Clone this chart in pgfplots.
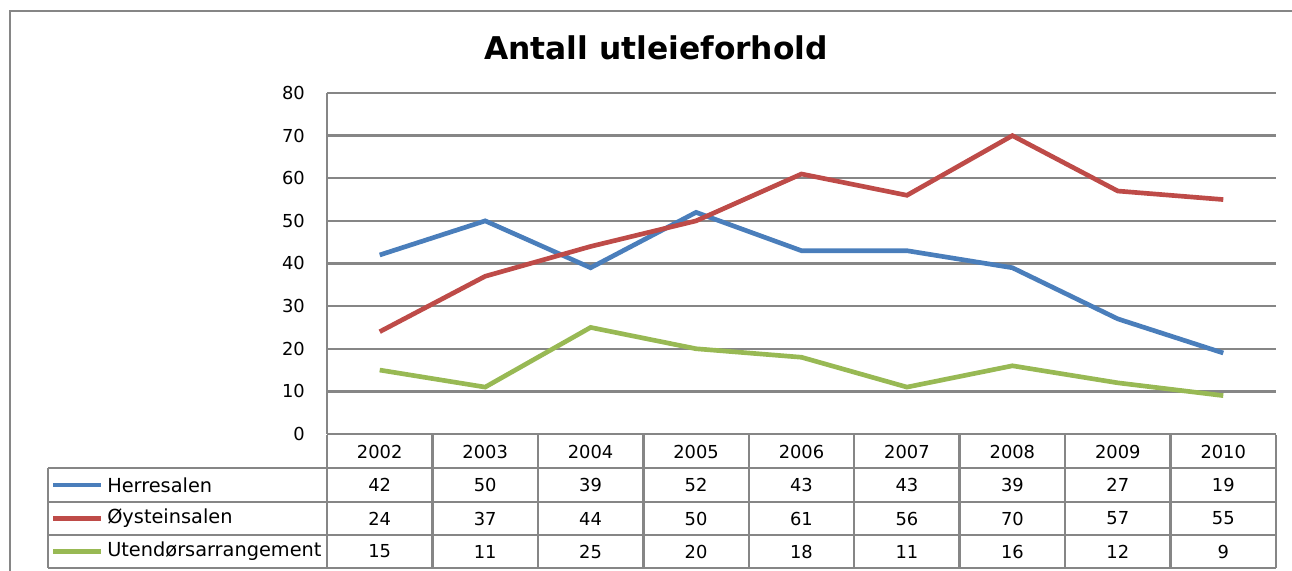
\documentclass[border=0pt]{standalone}
\usepackage{fontspec}
\setmainfont{DejaVu Sans}
\usepackage{pgfplots}
\pgfplotsset{compat=1.18}
\definecolor{gridgray}{HTML}{868686}
\definecolor{serBlue}{HTML}{4A7EBB}
\definecolor{serRed}{HTML}{BE4B48}
\definecolor{serGreen}{HTML}{98B954}
\newcommand\cellfont{\fontsize{13.4}{15}\selectfont}
\newcommand\legfont{\fontsize{14.5}{16}\selectfont}
\begin{document}
\begin{tikzpicture}[x=0.75pt,y=0.75pt]
\path[use as bounding box, clip] (0,0) rectangle (1292,571);
% chart frame, runs off the right and bottom edges
\draw[gridgray, line width=2.2pt] (10,-20) -- (10,560) -- (1320,560);
\node[font=\fontsize{23.5}{26}\selectfont\bfseries] at (656,523) {Antall utleieforhold};

\begin{axis}[
  at={(245.25pt,102.75pt)}, anchor=south west, scale only axis,
  width=711.75pt, height=255.75pt,
  xmin=0.5, xmax=9.5, ymin=0, ymax=80,
  axis x line=none, axis y line*=left,
  axis line style={gridgray, line width=1.8pt},
  ytick={0,10,...,80}, ymajorgrids,
  grid style={gridgray, line width=1.8pt},
  major tick length=0pt,
  yticklabel style={anchor=east, inner sep=0pt, xshift=-16.5pt, font=\cellfont},
  /pgf/number format/assume math mode=true,
  clip=false,
]
\addplot[serBlue, line width=3.5pt] coordinates {(1,42)(2,50)(3,39)(4,52)(5,43)(6,43)(7,39)(8,27)(9,19)};
\addplot[serRed, line width=3.5pt] coordinates {(1,24)(2,37)(3,44)(4,50)(5,61)(6,56)(7,70)(8,57)(9,55)};
\addplot[serGreen, line width=3.5pt] coordinates {(1,15)(2,11)(3,25)(4,20)(5,18)(6,11)(7,16)(8,12)(9,9)};
\end{axis}

% data table under the plot
\begin{scope}[gridgray, line width=1.8pt]
  \foreach \k in {0,...,9} \draw ({327+\k*105.44},136) -- ({327+\k*105.44},3);
  \foreach \yy in {103,69,36,3} \draw (48,\yy) -- (1276,\yy);
  \draw (48,103) -- (48,3);
\end{scope}
\begin{scope}[every node/.style={font=\cellfont}]
  \foreach \yr [count=\i from 0] in {2002,...,2010}
    \node at ({327+(\i+0.5)*105.44},119.5) {\yr};
  \foreach \v [count=\i from 0] in {42,50,39,52,43,43,39,27,19}
    \node at ({327+(\i+0.5)*105.44},86) {\v};
  \foreach \v [count=\i from 0] in {24,37,44,50,61,56,70,57,55}
    \node at ({327+(\i+0.5)*105.44},52.5) {\v};
  \foreach \v [count=\i from 0] in {15,11,25,20,18,11,16,12,9}
    \node at ({327+(\i+0.5)*105.44},19.5) {\v};
  \draw[serBlue, line width=3.5pt] (53,86) -- (101,86);
  \node[anchor=west, inner sep=0pt, font=\legfont] at (107,86) {Herresalen};
  \draw[serRed, line width=3.5pt] (53,52.5) -- (101,52.5);
  \node[anchor=west, inner sep=0pt, font=\legfont] at (107,52.5) {Øysteinsalen};
  \draw[serGreen, line width=3.5pt] (53,19.5) -- (101,19.5);
  \node[anchor=west, inner sep=0pt, font=\legfont] at (107,19.5) {Utendørsarrangement};
\end{scope}
\end{tikzpicture}
\end{document}
